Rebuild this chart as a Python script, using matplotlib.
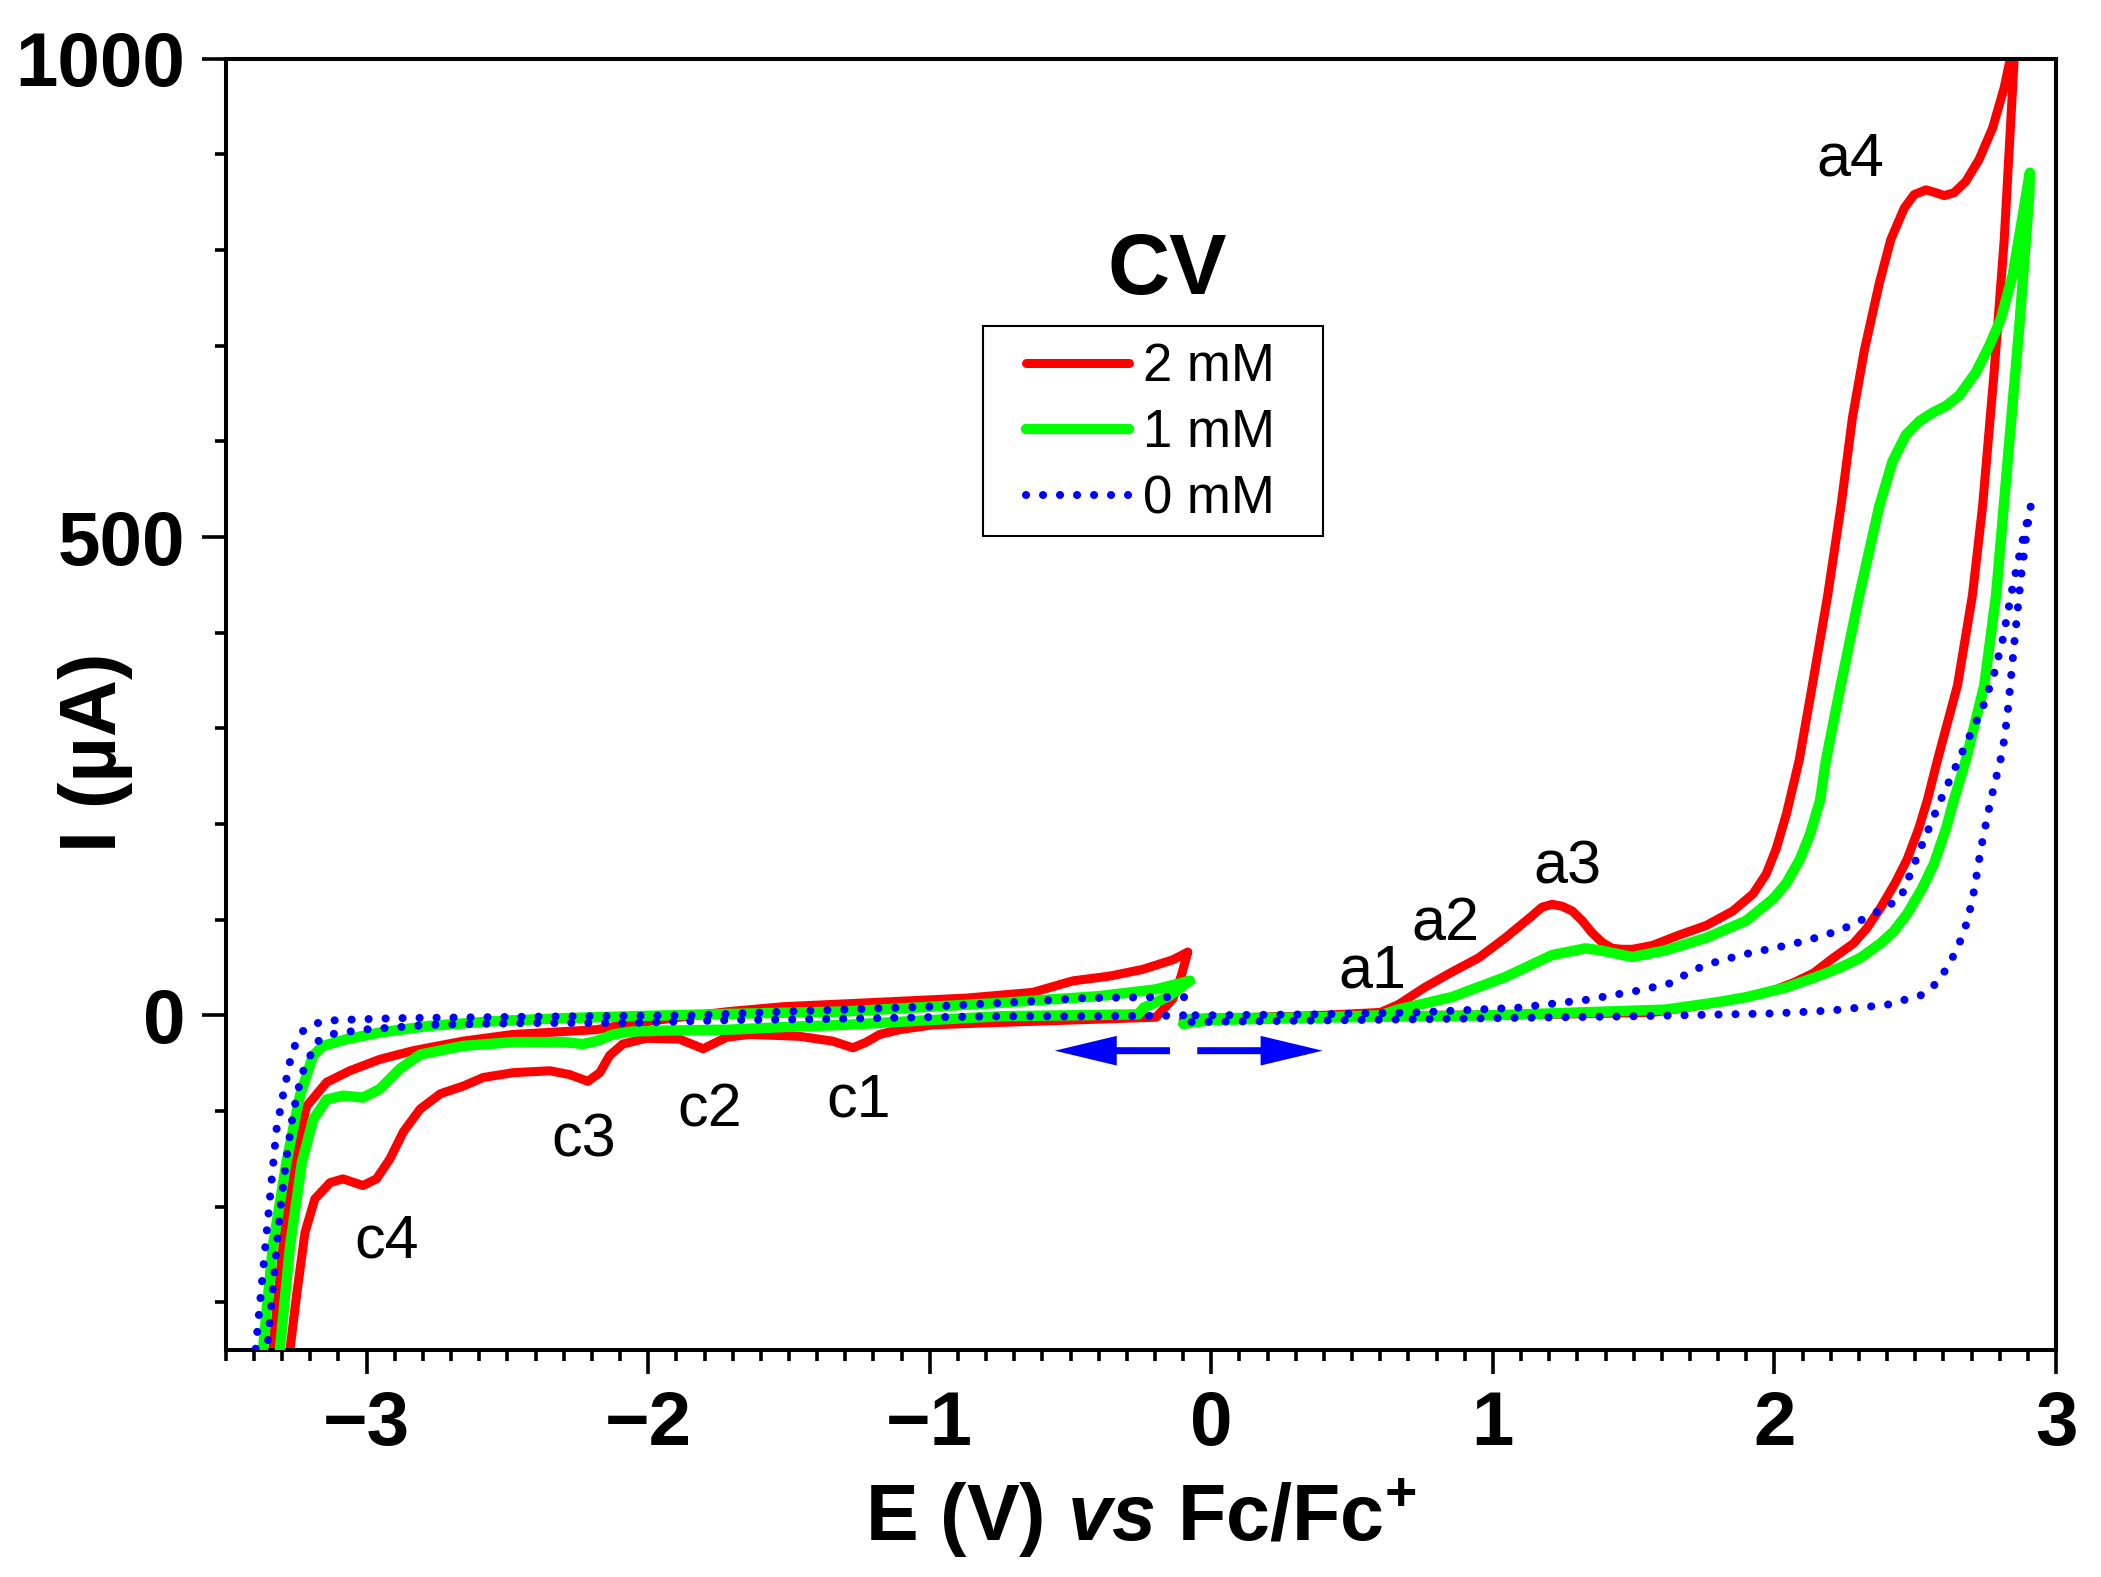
import matplotlib.pyplot as plt
from matplotlib.patches import Rectangle
from matplotlib.ticker import MultipleLocator

plt.rcParams['font.family'] = ['Liberation Sans', 'DejaVu Sans']
plt.rcParams['mathtext.fontset'] = 'custom'
plt.rcParams['mathtext.rm'] = 'Liberation Sans:bold'
plt.rcParams['mathtext.it'] = 'Liberation Sans:italic:bold'
plt.rcParams['mathtext.bf'] = 'Liberation Sans:bold'

# 2 mM, scan towards negative potentials (lower branch out, upper branch back)
e_red_neg = [-0.084, -0.107, -0.137, -0.196, -0.30, -0.50, -0.81, -0.99, -1.107, -1.178,
             -1.225, -1.273, -1.345, -1.462, -1.64, -1.722, -1.805, -1.888, -2.006, -2.09,
             -2.137, -2.172, -2.214, -2.279, -2.349, -2.48, -2.586, -2.657, -2.738, -2.81,
             -2.87, -2.917, -2.965, -3.013, -3.084, -3.13, -3.184, -3.219, -3.249, -3.272, -3.29,
             -3.35, -3.333, -3.297, -3.262, -3.213, -3.142, -3.06, -2.953, -2.835, -2.657,
             -2.48, -2.30, -2.184, -2.065, -1.888, -1.71, -1.52, -1.225, -0.87, -0.634,
             -0.492, -0.361, -0.244, -0.137, -0.084]
i_red_neg = [66, 41, 17, -2, -3, -5, -8, -10, -15, -20,
             -28, -34, -27, -22, -20, -23, -35, -25, -24, -30,
             -42, -60, -69, -62, -58, -60, -65, -74, -82, -98,
             -122, -150, -171, -178, -171, -175, -192, -227, -293, -349, -420,
             -420, -349, -241, -154, -95, -70, -58, -46, -37, -27,
             -20, -17, -15, -9, -2, 4, 9, 13, 18, 24,
             36, 41, 48, 58, 66]

# 2 mM, scan towards positive potentials
e_red_pos = [-0.10, 0.0, 0.2, 0.4, 0.6, 0.663, 0.71, 0.757, 0.853, 0.949,
             1.044, 1.139, 1.174, 1.21, 1.246, 1.282, 1.317, 1.353, 1.389, 1.424,
             1.46, 1.495, 1.566, 1.662, 1.758, 1.852, 1.924, 1.971, 2.006, 2.042,
             2.088, 2.135, 2.189, 2.236, 2.277, 2.319, 2.372, 2.413, 2.461, 2.496,
             2.538, 2.573, 2.603, 2.638, 2.68, 2.727, 2.775, 2.816, 2.836, 2.86,
             2.851, 2.816, 2.78, 2.739, 2.703, 2.65, 2.579, 2.543, 2.512, 2.471,
             2.428, 2.376, 2.328, 2.28, 2.209, 2.138, 2.067, 1.996, 1.90, 1.804,
             1.686, 1.566, 1.2, 0.8, 0.4, 0.0, -0.08]
i_red_pos = [-5, -3, -2, 0, 3, 11, 20, 29, 45, 60,
             81, 104, 113, 116, 114, 109, 99, 86, 76, 70,
             69, 69, 73, 84, 94, 109, 127, 148, 174, 210,
             267, 346, 439, 532, 625, 695, 765, 811, 844, 858,
             863, 860, 857, 860, 872, 895, 928, 970, 998, 1015,
             998, 811, 672, 532, 439, 345, 267, 225, 195, 163,
             138, 112, 91, 75, 60, 44, 34, 26, 19, 14,
             8, 3, 1, 0, -1, -3, -4]

# 1 mM
e_grn_neg = [-0.077, -0.15, -0.24, -0.26, -0.5, -0.75, -1.0, -1.3, -1.5, -1.71,
             -1.947, -2.06, -2.125, -2.184, -2.232, -2.30, -2.48, -2.657, -2.81, -2.882,
             -2.953, -3.013, -3.084, -3.142, -3.19, -3.23, -3.272, -3.308, -3.33,
             -3.39, -3.368, -3.333, -3.285, -3.237, -3.19, -3.155, -3.071, -2.953, -2.775,
             -2.539, -2.30, -2.065, -1.71, -1.3, -0.75, -0.4, -0.2, -0.077]
i_grn_neg = [36, 20, 8, 1, 0, -1, -5, -10, -12, -15,
             -16, -17, -20, -27, -30, -28, -28, -32, -41, -56,
             -77, -86, -84, -88, -109, -154, -241, -349, -420,
             -420, -349, -241, -154, -84, -42, -32, -25, -18, -11,
             -6, -3, -1, 1.5, 4, 13, 20, 27, 36]

e_grn_pos = [-0.10, 0.0, 0.3, 0.6, 0.663, 0.853, 1.044, 1.21, 1.328, 1.38,
             1.495, 1.614, 1.758, 1.90, 1.996, 2.042, 2.09, 2.126, 2.162, 2.183,
             2.236, 2.301, 2.372, 2.419, 2.467, 2.514, 2.561, 2.609, 2.656, 2.715,
             2.763, 2.804, 2.846, 2.881, 2.907, 2.905, 2.869, 2.828, 2.787, 2.745,
             2.68, 2.637, 2.609, 2.566, 2.523, 2.471, 2.424, 2.376, 2.305, 2.234,
             2.138, 2.04, 1.90, 1.804, 1.614, 1.0, 0.5, 0.0, -0.08]
i_grn_pos = [-9, -5, -3, 0, 6, 19, 40, 63, 70, 68,
             61, 68, 81, 99, 122, 138, 163, 189, 225, 267,
             346, 439, 532, 579, 607, 621, 630, 637, 648, 672,
             700, 728, 774, 835, 881, 858, 718, 579, 439, 345,
             267, 225, 195, 158, 132, 106, 88, 75, 60, 50,
             39, 29, 19, 14, 6, 0, -2, -3, -4]

# 0 mM (blank)
e_blu_neg = [-0.10, -0.172, -0.42, -0.73, -1.0, -1.4, -1.71, -2.065, -2.42, -2.775,
             -3.013, -3.13, -3.178, -3.231, -3.261, -3.285, -3.308, -3.343, -3.369,
             -3.41, -3.39, -3.373, -3.355, -3.337, -3.32, -3.296, -3.272, -3.255, -3.225,
             -3.166, -3.107, -2.894, -2.42, -1.83, -1.5, -1.0, -0.705, -0.455, -0.213, -0.095]
i_blu_neg = [0, -0.5, -1, -1, -2, -4, -5, -8, -8, -10,
             -15, -20, -28, -62, -102, -150, -206, -317, -400,
             -400, -336, -283, -227, -171, -119, -82, -48, -32, -16,
             -7, -5, -3, -1.5, 0, 4, 9, 13.6, 18, 19, 19]

e_blu_pos = [-0.07, 0.5, 1.0, 1.5, 2.0, 2.2, 2.40, 2.52, 2.578, 2.613,
             2.65, 2.686, 2.71, 2.733, 2.768, 2.81, 2.827, 2.851, 2.875, 2.90, 2.91,
             2.90, 2.88, 2.846, 2.81, 2.78, 2.74, 2.69, 2.59, 2.518, 2.447,
             2.34, 2.234, 2.113, 1.996, 1.925, 1.804, 1.708, 1.637, 1.52, 1.328,
             1.09, 0.73, 0.37, 0.0, -0.07]
i_blu_pos = [-7, -5, -3, -1, 2, 5, 11, 21, 34, 50,
             70, 99, 132, 174, 225, 276, 313, 387, 457, 514, 532,
             520, 495, 448, 392, 357, 322, 290, 225, 174, 122,
             104, 89, 78, 70, 66, 57, 47, 34, 26, 16,
             8, 3, 1, 0, 0]

series_labels = ['2 mM', '1 mM', '0 mM']

peak_names = ['a1', 'a2', 'a3', 'a4', 'c1', 'c2', 'c3', 'c4']
peak_e = [0.571, 0.831, 1.265, 2.27, -1.252, -1.78, -2.228, -2.93]
peak_i = [29, 78, 138, 878, -106, -116, -148, -253]

x_ticks = [-3, -2, -1, 0, 1, 2, 3]
x_tick_labels = ['\u22123', '\u22122', '\u22121', '0', '1', '2', '3']
y_ticks = [0, 500, 1000]
y_tick_labels = ['0', '500', '1000']

red = '#ff0000'
green = '#00ff00'
blue = '#0000ff'

fig = plt.figure(figsize=(21.01, 15.77), dpi=100)
ax = fig.add_axes([0.1075, 0.1439, 0.8711, 0.8188])

solid = dict(solid_capstyle='round', solid_joinstyle='round')
dots = (0, (0.01, 2.1))

ax.plot(e_red_neg, i_red_neg, color=red, lw=6.5, zorder=2, **solid)
ax.plot(e_red_pos, i_red_pos, color=red, lw=6.5, zorder=2, label=series_labels[0], **solid)
ax.plot(e_grn_neg, i_grn_neg, color=green, lw=7.5, zorder=3, **solid)
ax.plot(e_grn_pos, i_grn_pos, color=green, lw=7.5, zorder=3, label=series_labels[1], **solid)
ax.plot(e_blu_neg, i_blu_neg, color=blue, lw=5.8, ls=dots, dash_capstyle='round', zorder=4)
ax.plot(e_blu_pos, i_blu_pos, color=blue, lw=5.8, ls=dots, dash_capstyle='round', zorder=4,
        label=series_labels[2])

# scan direction arrows
ax.arrow(-0.147, -37, -0.409, 0, width=7.3, head_width=31, head_length=0.22,
         length_includes_head=True, color=blue, lw=0, zorder=5)
ax.arrow(-0.05, -37, 0.445, 0, width=7.3, head_width=31, head_length=0.22,
         length_includes_head=True, color=blue, lw=0, zorder=5)

for name, x, y in zip(peak_names, peak_e, peak_i):
    ax.text(x, y, name, fontsize=44, ha='center', va='baseline', zorder=6)

ax.text(-0.155, 754, 'CV', fontsize=62, fontweight='bold', ha='center', va='baseline')

ax.set_xlim(-3.5, 3.0)
ax.set_ylim(-350, 1000)
ax.set_xticks(x_ticks, labels=x_tick_labels, fontweight='bold')
ax.set_yticks(y_ticks, labels=y_tick_labels, fontweight='bold')
ax.xaxis.set_minor_locator(MultipleLocator(0.1))
ax.yaxis.set_minor_locator(MultipleLocator(100))
ax.tick_params(which='major', direction='out', length=17, width=2.6, labelsize=55, pad=12)
ax.tick_params(which='minor', direction='out', length=8, width=2.6)
for sp in ax.spines.values():
    sp.set_linewidth(2.9)

ax.set_xlabel(r'E (V) $\mathit{vs}$ Fc/Fc$^{\mathrm{+}}$', fontsize=57, fontweight='bold')
ax.xaxis.set_label_coords(0.5, -0.1477)
ax.xaxis.label.set_verticalalignment('baseline')
ax.set_ylabel('I (\u00b5A)', fontsize=57, fontweight='bold')
ax.yaxis.set_label_coords(-0.0507, 0.4627)

leg = ax.legend(loc='center left', bbox_to_anchor=(0.4372, 0.710), frameon=False,
                fontsize=38, handlelength=1.95, handletextpad=0.27, labelspacing=0.3,
                borderpad=0, borderaxespad=0)
ax.add_patch(Rectangle((0.4137, 0.6304), 0.1858, 0.1626, transform=ax.transAxes,
                       fill=False, lw=1.5, ec='black', zorder=5))

fig.savefig('out.png', dpi=100)
